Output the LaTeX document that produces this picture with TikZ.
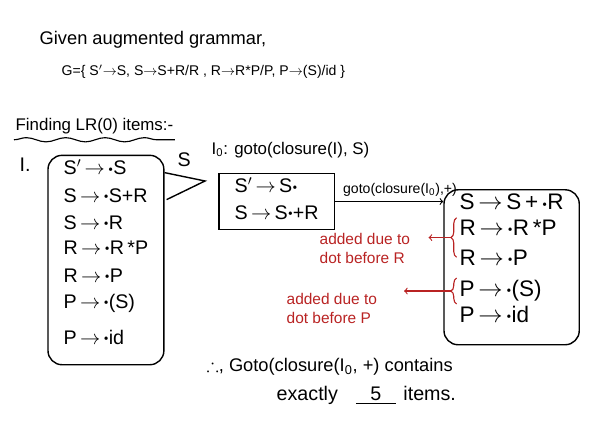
\documentclass[tikz,border=0pt]{standalone}
\usepackage{amsmath}
\usepackage{amssymb}
\usepackage{fontspec}
\setmainfont{Liberation Sans}
\usetikzlibrary{shapes,arrows,positioning,calc,fit,decorations.pathreplacing,decorations.pathmorphing}
\usepackage{xcolor}
\definecolor{inkred}{RGB}{185,35,35}
\newcommand{\itemdot}{\raisebox{0.3ex}{\tiny$\bullet$}}
\newcommand{\prodarrow}{\,$\rightarrow$\,}

\begin{document}
\begin{tikzpicture}[
    x=0.025cm, y=-0.025cm,
    note/.style={anchor=west, inner sep=1pt, font=\fontsize{12}{14}\selectfont},
    item/.style={anchor=base west, inner sep=1pt, font=\fontsize{14}{16}\selectfont},
    bigitem/.style={item, font=\fontsize{16}{18}\selectfont},
    state/.style={draw, line width=1pt, rounded corners=10pt, inner xsep=0.35cm, inner ysep=2pt},
    remark/.style={anchor=west, align=left, inner sep=1pt, text=inkred, font=\fontsize{11}{13.5}\selectfont},
    brace/.style={decorate, decoration={brace, amplitude=4pt}, draw=inkred, line width=0.8pt},
    link/.style={->, line width=0.8pt}
]
\useasboundingbox (0,0) rectangle (600,445);

% Grammar
\node (given) [note, font=\fontsize{13}{15}\selectfont] at (38,40) {Given augmented grammar,};
\node (grammar) [note, font=\fontsize{10}{12}\selectfont] at (60,72) {G=\{ S$'$$\rightarrow$S, S$\rightarrow$S+R/R , R$\rightarrow$R*P/P, P$\rightarrow$(S)/id \}};
\node (finding) [note] at (14,126) {Finding LR(0) items:-};
\draw[decorate, decoration={snake, amplitude=1.5pt, segment length=28pt}, line width=0.8pt]
    ([yshift=-3pt]finding.south west) -- ([yshift=-3pt]finding.south east);

% Closure of I
\node (start) [note, font=\fontsize{14}{16}\selectfont] at (18,165) {I.};
\node (i1) [item] at (62,175) {S$'$\prodarrow\itemdot S};
\node (i2) [item, below=0.675cm of i1.base west, anchor=base west] {S\prodarrow\itemdot S+R};
\node (i3) [item, below=0.675cm of i2.base west, anchor=base west] {S\prodarrow\itemdot R};
\node (i4) [item, below=0.625cm of i3.base west, anchor=base west] {R\prodarrow\itemdot R\,*P};
\node (i5) [item, below=0.7cm of i4.base west, anchor=base west] {R\prodarrow\itemdot P};
\node (i6) [item, below=0.65cm of i5.base west, anchor=base west] {P\prodarrow\itemdot(S)};
\node (i7) [item, below=0.9cm of i6.base west, anchor=base west] {P\prodarrow\itemdot id};
\coordinate (ilow) at ($(i7.south)+(0,16)$);
\node (I) [state, fit=(i1)(i2)(i4)(i7)(ilow)] {};

% Goto on S
\coordinate (tip) at (205,181);
\draw[line width=1pt] ($(I.north east)+(0,18)$) -- (tip) -- ($(I.north east)+(2,45)$);
\node (slabel) [note, font=\fontsize{14}{16}\selectfont] at (176,160) {S};
\node (i0title) [note] at (210,150) {I\textsubscript{0}: goto(closure(I), S)};
\node (a1) [item] at (233,193) {S$'$\prodarrow S\itemdot};
\node (a2) [item, below=0.65cm of a1.base west, anchor=base west] {S\prodarrow S\itemdot+R};
\coordinate (alow) at ($(a2.south)+(0,6)$);
\node (I0) [state, sharp corners, fit=(a1)(a2)(alow)] {};

% Goto on +
\node (g1) [bigitem] at (458,210) {S\prodarrow S\,+\,\itemdot R};
\node (g2) [bigitem, below=0.625cm of g1.base west, anchor=base west] {R\prodarrow\itemdot R\,*P};
\node (g3) [bigitem, below=0.75cm of g2.base west, anchor=base west] {R\prodarrow\itemdot P};
\node (g4) [bigitem, below=0.775cm of g3.base west, anchor=base west] {P\prodarrow\itemdot(S)};
\node (g5) [bigitem, below=0.65cm of g4.base west, anchor=base west] {P\prodarrow\itemdot id};
\coordinate (glow) at ($(g5.south)+(0,18)$);
\node (gotoplus) [state, fit=(g1)(g2)(g5)(glow)] {};
\draw[link] (I0.east) -- (I0.east -| gotoplus.west)
    node[pos=0.6, above, font=\fontsize{10}{12}\selectfont] {goto(closure(I\textsubscript{0}),+)};

% Red remarks
\draw[brace] ([xshift=-1pt]g3.west) -- ([xshift=-1pt]g2.north west);
\draw[brace] ([xshift=-1pt]g5.north west) -- ([xshift=-1pt]g4.north west);
\coordinate (b1) at ($(g2.north west)!0.5!(g3.west)+(-7,0)$);
\coordinate (b2) at ($(g4.north west)!0.5!(g5.north west)+(-7,0)$);
\node (why1) [remark] at (318,248) {added due to\\dot before R};
\node (why2) [remark] at (285,308) {added due to\\dot before P};
\draw[link, draw=inkred, shorten >=12pt] (b1) -- (b1 -| why1.east);
\draw[link, draw=inkred, shorten >=18pt] (b2) -- (b2 -| why2.east);

% Conclusion
\node (hence) [note, font=\fontsize{13}{15}\selectfont] at (205,367) {$\therefore$, Goto(closure(I\textsubscript{0}, +) contains};
\node (exactly) [note, font=\fontsize{14}{16}\selectfont] at (275,395) {exactly\hspace{0.45cm}\underline{\makebox[1cm]{5}}\hspace{0.05cm} items.};

\end{tikzpicture}
\end{document}
